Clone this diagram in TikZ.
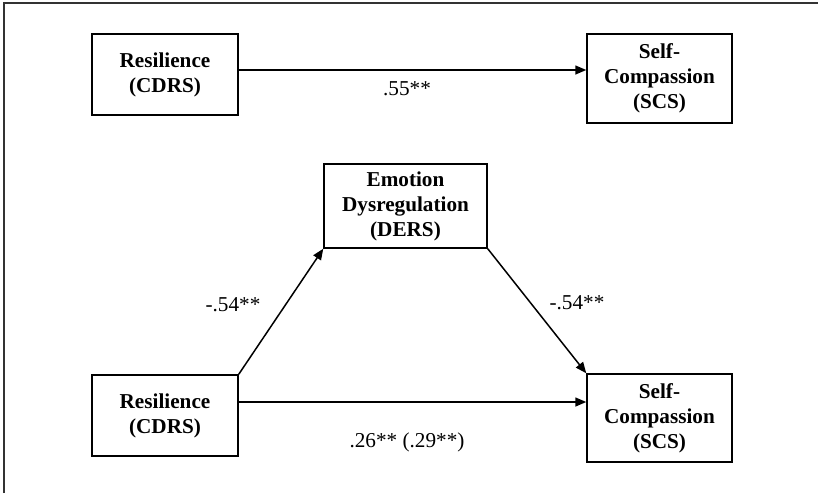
\documentclass[tikz,border=0pt]{standalone}
\usepackage{fontspec}
\setmainfont{Liberation Serif}
\usetikzlibrary{arrows.meta}
\begin{document}
\begin{tikzpicture}[x=0.5pt,y=-0.5pt,
    varbox/.style={draw,line width=0.75pt,align=center,inner sep=0pt,
      font=\fontsize{10.6}{12.5}\selectfont\bfseries},
    coef/.style={font=\fontsize{10.6}{12.5}\selectfont},
    path/.style={line width=0.75pt,-{Triangle[length=5.5pt,width=4.5pt]}}]
  \useasboundingbox (0,0) rectangle (818,493);
  % frame
  \draw[line width=1pt,black!80] (4,493) -- (4,3) -- (818,3);
  % total effect
  \node[varbox,minimum width=73pt,minimum height=40.5pt] (res1) at (165,74.5) {Resilience\\(CDRS)};
  \node[varbox,minimum width=72.5pt,minimum height=44.5pt] (scs1) at (659.5,78.5) {Self-\\Compassion\\(SCS)};
  \draw[path] (res1.east |- 0,70) -- (scs1.west |- 0,70);
  \node[coef] (c) at (407,89) {.55**};
  % mediation model
  \node[varbox,minimum width=81.5pt,minimum height=42pt] (ders) at (405.5,206) {Emotion\\Dysregulation\\(DERS)};
  \node[varbox,minimum width=73pt,minimum height=40.5pt] (res2) at (165,415.5) {Resilience\\(CDRS)};
  \node[varbox,minimum width=72.5pt,minimum height=44pt] (scs2) at (659.5,418) {Self-\\Compassion\\(SCS)};
  \begin{scope}[path]
    \draw (res2.north east) -- (ders.south west);
    \draw (ders.south east) -- (scs2.north west);
    \draw (res2.east |- 0,402) -- (scs2.west |- 0,402);
  \end{scope}
  \node[coef] (a) at (233,305) {-.54**};
  \node[coef] (b) at (577,303) {-.54**};
  \node[coef] (cp) at (407,442) {.26** (.29**)};
\end{tikzpicture}
\end{document}
